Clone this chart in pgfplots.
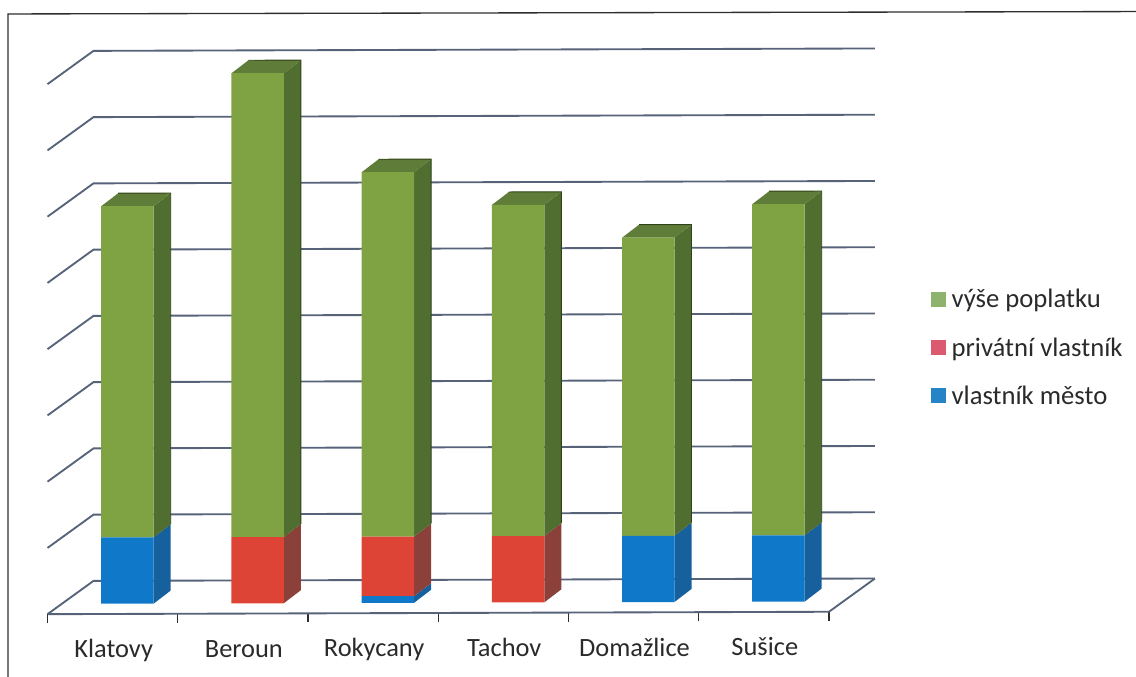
\documentclass[border=0pt]{standalone}
\usepackage{fontspec}
\setmainfont{Carlito}
\usepackage{pgfplots}
\usepackage{pgfplotstable}
\pgfplotsset{compat=1.18}

% colours
\definecolor{gridblue}{HTML}{566379}
\definecolor{framec}{HTML}{2E2E2E}
\definecolor{txt}{HTML}{2A2A2A}
\definecolor{grfront}{HTML}{7FA343}
\definecolor{grside}{HTML}{4F6E2F}
\definecolor{grtop}{HTML}{5F7D38}
\definecolor{gredge}{HTML}{2F4219}
\definecolor{rdfront}{HTML}{DE4436}
\definecolor{rdside}{HTML}{8C403A}
\definecolor{blfront}{HTML}{0F78C8}
\definecolor{blside}{HTML}{17609E}
\definecolor{leggr}{HTML}{8DB36E}
\definecolor{legrd}{HTML}{DC5A70}
\definecolor{legbl}{HTML}{2484C6}

\pgfplotstableread{
x  mesto privat poplatek
0  1     0      5
1  0     1      7
2  0.1   0.9    5.5
3  0     1      5
4  1     0      4.5
5  1     0      5
}\stackdata

% 1px = 0.75pt, slightly tilted x axis because the source is a scan
\pgfplotsset{
  common/.style={
    x={(97.65pt,0.3pt)}, y={(0pt,49.69pt)},
    xmin=-0.614, xmax=5.388,
    ymin=-0.155, ymax=8.5,
    clip=false,
    anchor=origin, at={(95.6pt,55pt)},
  },
}

\newcommand\sideface[4]{%
  \pgfmathsetmacro\xa{#1+0.2016}%
  \pgfmathsetmacro\xb{#1+0.2016+0.1306}%
  \pgfmathsetmacro\ya{#2+0.196}%
  \pgfmathsetmacro\yb{#3+0.196}%
  \addplot[fill=#4,draw=none,forget plot] coordinates {(\xa,#2)(\xb,\ya)(\xb,\yb)(\xa,#3)} --cycle;
}
\newcommand\topface[2]{%
  \pgfmathsetmacro\xa{#1-0.2016}%
  \pgfmathsetmacro\xb{#1+0.2016}%
  \pgfmathsetmacro\xc{#1+0.2016+0.1306}%
  \pgfmathsetmacro\xd{#1-0.2016+0.1306}%
  \pgfmathsetmacro\ya{#2+0.196}%
  \addplot[fill=grtop,draw=none,forget plot] coordinates {(\xa,#2)(\xb,#2)(\xc,\ya)(\xd,\ya)} --cycle;
  % dark back edge of the green column
  \addplot[gredge,line width=0.7pt,forget plot] coordinates {(\xc,1.196)(\xc,\ya)(\xd,\ya)};
}
\newcommand\gridline[1]{%
  \pgfmathsetmacro\ya{#1-0.155}%
  \pgfmathsetmacro\yb{#1+0.345}%
  \addplot[gridblue,line width=1.4pt,forget plot] coordinates {(-0.614,\ya)(-0.261,\yb)(5.741,\yb)};
}

\begin{document}
\begin{tikzpicture}
\path[use as bounding box] (0,0) rectangle (852pt,507.75pt);

\begin{axis}[
  common,
  axis x line*=bottom,
  hide y axis,
  axis line style={gridblue,line width=1.4pt,-},
  xtick={-0.614,0.386,1.386,2.386,3.386,4.386,5.388},
  xticklabels={Klatovy,Beroun,Rokycany,Tachov,Domažlice,Sušice},
  x tick label as interval,
  xtick align=outside,
  major tick length=6.75pt,
  tick style={framec,line width=0.9pt},
  xticklabel style={font=\fontsize{19.8pt}{21pt}\selectfont,text=txt,
    text height=13pt,text depth=4pt,yshift=-9.5pt,xshift=0.8pt},
]
% scan frame
\addplot[framec,line width=1pt,forget plot] coordinates {(-0.918,-1.15)(-0.918,8.906)(7.78,8.89)};
\gridline{0}\gridline{1}\gridline{2}\gridline{3}\gridline{4}\gridline{5}\gridline{6}\gridline{7}\gridline{8}
\addplot[gridblue,line width=1.4pt,forget plot] coordinates {(5.388,-0.155)(5.741,0.345)};

\sideface{0}{0}{1}{blside}\sideface{0}{1}{6}{grside}\topface{0}{6}
\sideface{1}{0}{1}{rdside}\sideface{1}{1}{8}{grside}\topface{1}{8}
\sideface{2}{0}{0.1}{blside}\sideface{2}{0.1}{1}{rdside}\sideface{2}{1}{6.5}{grside}\topface{2}{6.5}
\sideface{3}{0}{1}{rdside}\sideface{3}{1}{6}{grside}\topface{3}{6}
\sideface{4}{0}{1}{blside}\sideface{4}{1}{5.5}{grside}\topface{4}{5.5}
\sideface{5}{0}{1}{blside}\sideface{5}{1}{6}{grside}\topface{5}{6}
\end{axis}

\begin{axis}[
  common,
  hide axis,
  ybar stacked,
  bar width=39.4pt,
  legend cell align=left,
  legend style={
    at={(axis cs:6.17,4.75)},anchor=north west,
    draw=none,fill=none,inner sep=0pt,
    font=\fontsize{20pt}{21pt}\selectfont,text=txt,
    row sep=16.7pt,column sep=2.5pt,
  },
]
\addplot[fill=blfront,draw=none,forget plot] table[x=x,y=mesto] {\stackdata};
\addplot[fill=rdfront,draw=none,forget plot] table[x=x,y=privat] {\stackdata};
\addplot[fill=grfront,draw=none,forget plot] table[x=x,y=poplatek] {\stackdata};

\addlegendimage{legend image code/.code={\fill[leggr] (0pt,-5pt) rectangle (10.5pt,5.5pt);}}
\addlegendentry{výše poplatku}
\addlegendimage{legend image code/.code={\fill[legrd] (0pt,-5pt) rectangle (10.5pt,5.5pt);}}
\addlegendentry{privátní vlastník}
\addlegendimage{legend image code/.code={\fill[legbl] (0pt,-5pt) rectangle (10.5pt,5.5pt);}}
\addlegendentry{vlastník město}
\end{axis}
\end{tikzpicture}
\end{document}
